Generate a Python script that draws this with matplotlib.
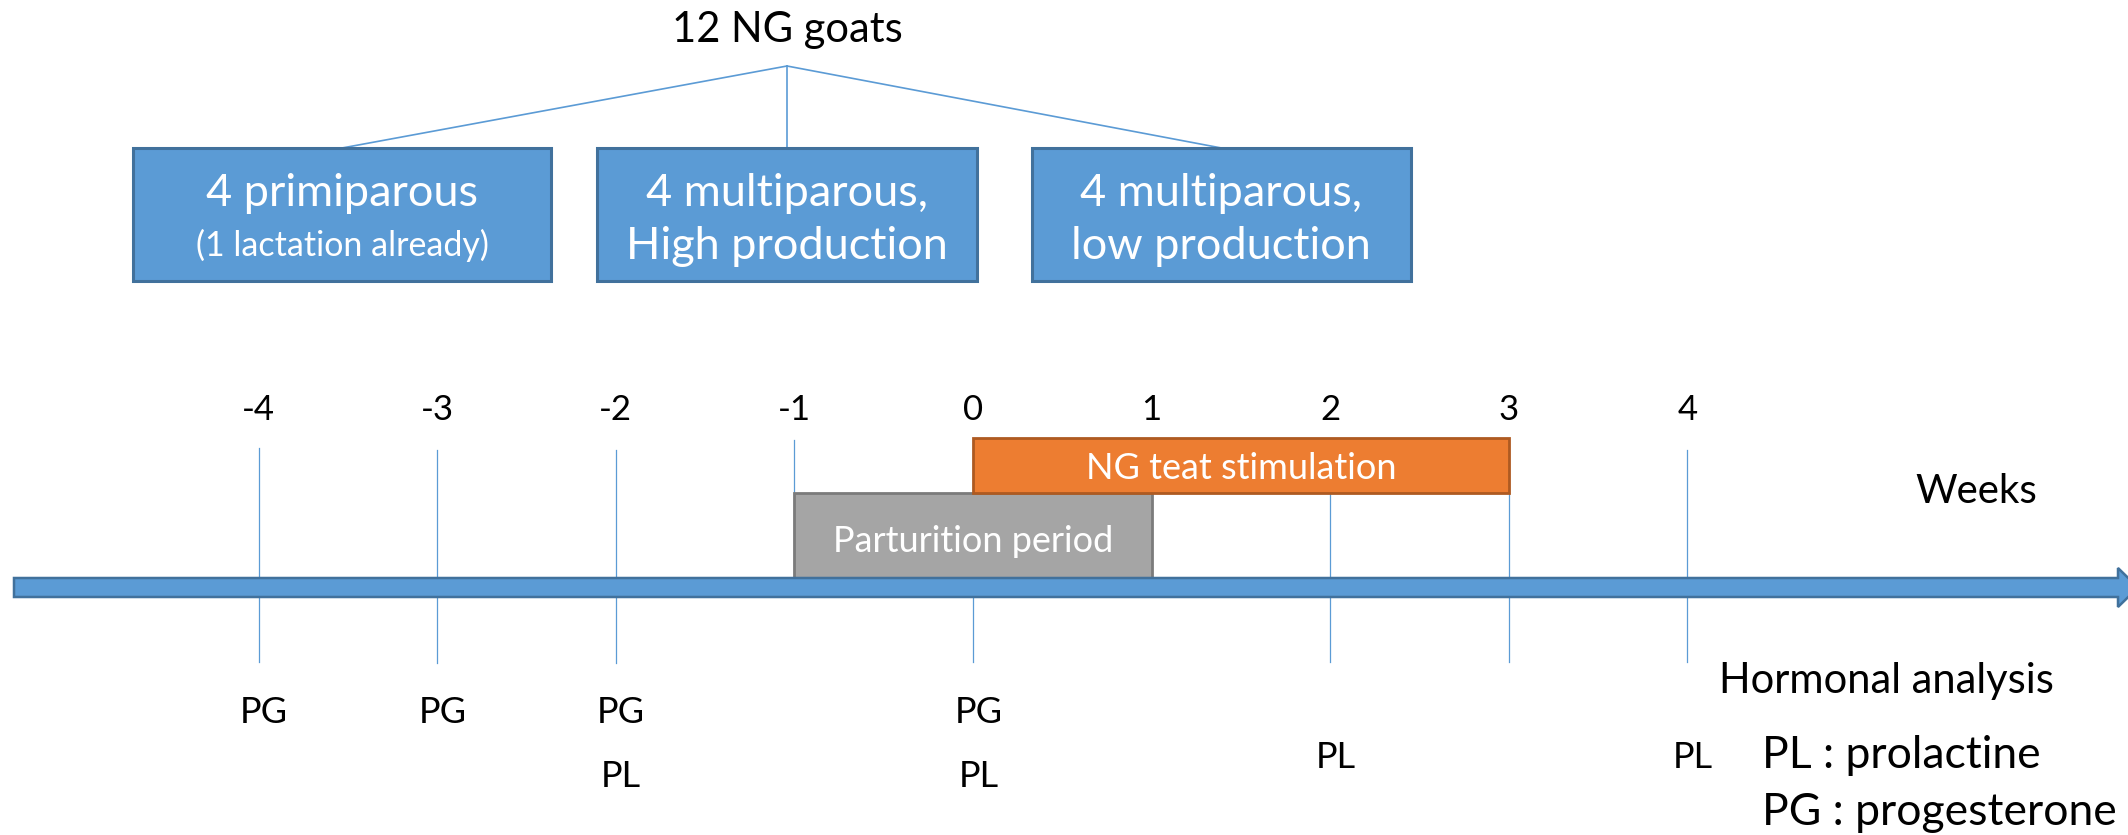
import matplotlib
matplotlib.use("Agg")
import matplotlib.pyplot as plt
from matplotlib.patches import Rectangle, Polygon

plt.rcParams['font.family'] = ['Lato', 'DejaVu Sans']

# --- data ---
title = "12 NG goats"
group_line1 = ["4 primiparous", "4 multiparous,", "4 multiparous,"]
group_line2 = ["(1 lactation already)", "High production", "low production"]
weeks = [-4, -3, -2, -1, 0, 1, 2, 3, 4]
pg_weeks = [-4, -3, -2, 0]
pl_weeks = [-2, 0, 2, 4]
parturition = (-1, 1)
stimulation = (0, 3)
legend_lines = ["PL : prolactine", "PG : progesterone"]

# --- layout (x in weeks, y in pixels from top) ---
x0px, step = 973.0, 178.6
W, H = 2128, 835
blue, blue_dk = "#5B9BD5", "#41719C"
orange, orange_dk = "#ED7D31", "#AE5A21"
grey, grey_dk = "#A5A5A5", "#7B7B7B"

group_x = [(-4.703, -2.363), (-2.105, 0.022), (0.330, 2.452)]
group_top, group_bot = 148, 281
apex_y = 66

fig = plt.figure(figsize=(W / 100, H / 100), dpi=100)
ax = fig.add_axes([0, 0, 1, 1])
ax.set_xlim(-x0px / step, (W - x0px) / step)
ax.set_ylim(H, 0)
ax.axis('off')

# title and tree
apex_x = sum(group_x[1]) / 2
ax.text(apex_x, 42, title, ha='center', va='baseline', fontsize=30, color='black')
for i, (a, b) in enumerate(group_x):
    cx = (a + b) / 2
    ax.plot([apex_x, cx], [apex_y, group_top], color=blue, lw=1.2, zorder=1)
    ax.add_patch(Rectangle((a, group_top), b - a, group_bot - group_top,
                           facecolor=blue, edgecolor=blue_dk, lw=2.2, zorder=2))
    ax.text(cx, 206, group_line1[i], ha='center', va='baseline',
            fontsize=32.5, color='white', zorder=3)
    ax.text(cx, 259 if i else 256, group_line2[i], ha='center', va='baseline',
            fontsize=24.5 if i == 0 else 32.5, color='white', zorder=3)

# week labels
for w in weeks:
    ax.text(w, 420, str(w), ha='center', va='baseline', fontsize=25, color='black')

# thin week lines (top, bottom)
seg = {-4: (448, 662), -3: (450, 663), -2: (450, 663), -1: (440, 578),
       0: (597, 662), 2: (493, 662), 3: (493, 662), 4: (450, 662)}
for w in weeks:
    if w in seg:
        ax.plot([w, w], seg[w], color=blue, lw=0.9, zorder=1)

# period boxes
ax.add_patch(Rectangle((stimulation[0], 438), stimulation[1] - stimulation[0], 55,
                       facecolor=orange, edgecolor=orange_dk, lw=2, zorder=3))
ax.text(sum(stimulation) / 2, 479, "NG teat stimulation", ha='center', va='baseline',
        fontsize=26, color='white', zorder=4)
ax.add_patch(Rectangle((parturition[0], 493), parturition[1] - parturition[0], 85,
                       facecolor=grey, edgecolor=grey_dk, lw=2, zorder=2))
ax.text(sum(parturition) / 2, 552, "Parturition period", ha='center', va='baseline',
        fontsize=26, color='white', zorder=4)

# time arrow
def px(x):
    return (x - x0px) / step
bar = [(px(14), 578), (px(2118), 578), (px(2118), 568), (px(2138), 587.5),
       (px(2118), 607), (px(2118), 597), (px(14), 597)]
ax.add_patch(Polygon(bar, closed=True, facecolor=blue, edgecolor=blue_dk,
                     lw=1.8, zorder=2, clip_on=True))

ax.text(px(1976), 503, "Weeks", ha='center', va='baseline', fontsize=29, color='black')
ax.text(px(1886), 693, "Hormonal analysis", ha='center', va='baseline', fontsize=30, color='black')

# hormone samples
for w in pg_weeks:
    ax.text(w + 0.03, 723, "PG", ha='center', va='baseline', fontsize=26, color='black')
for w in pl_weeks:
    y = 787 if w <= 0 else 768
    ax.text(w + 0.03, y, "PL", ha='center', va='baseline', fontsize=26, color='black')

ax.text(px(1762), 768, legend_lines[0], ha='left', va='baseline', fontsize=32, color='black')
ax.text(px(1762), 825, legend_lines[1], ha='left', va='baseline', fontsize=32, color='black')

fig.savefig("out.png", dpi=100)
